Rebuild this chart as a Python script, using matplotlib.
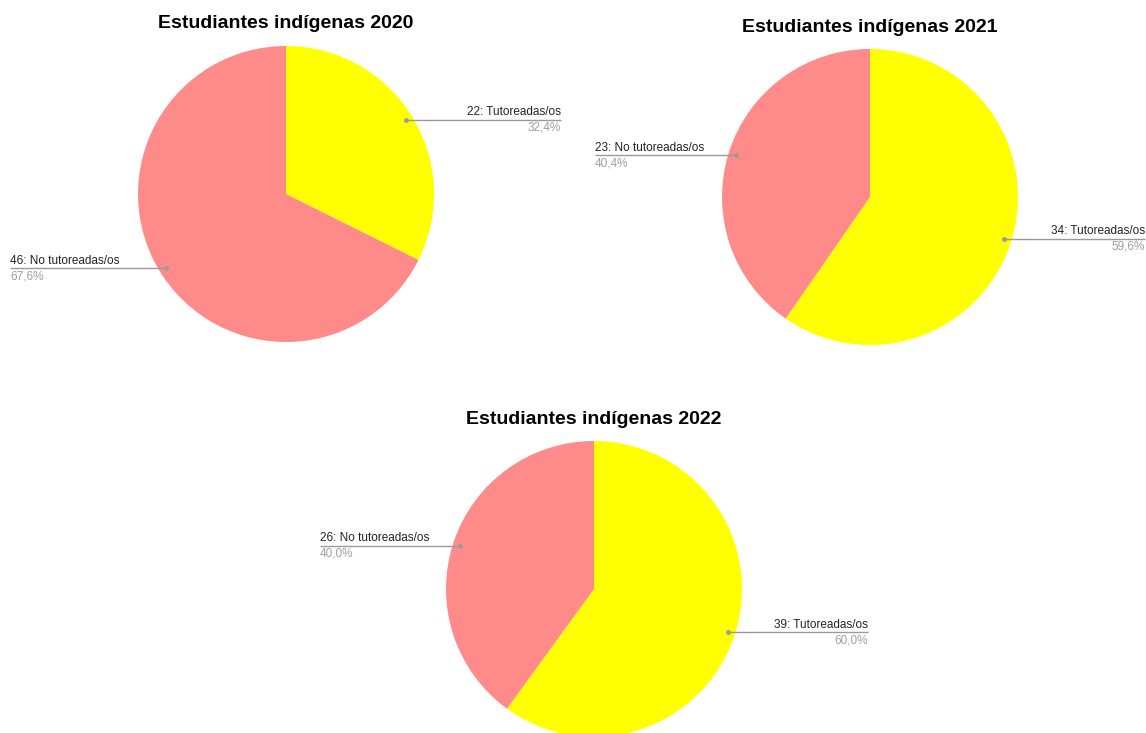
import matplotlib
matplotlib.use("Agg")
import matplotlib.pyplot as plt
import numpy as np

plt.rcParams['font.family'] = ['Liberation Sans', 'DejaVu Sans']

years = ["2020", "2021", "2022"]
titles = ["Estudiantes indígenas 2020", "Estudiantes indígenas 2021", "Estudiantes indígenas 2022"]
categories = ["Tutoreadas/os", "No tutoreadas/os"]
tutoreadas = [22, 34, 39]
no_tutoreadas = [46, 23, 26]

colors = ["#FFFF00", "#FF8A8A"]

W, H = 1146, 733
fig = plt.figure(figsize=(W / 100, H / 100), dpi=100)
ax = fig.add_axes([0, 0, 1, 1])
ax.set_xlim(0, W)
ax.set_ylim(0, H)
ax.set_aspect('equal')
ax.axis('off')

# layout: pie centers (pixel coords from top), radius, title y, label x-ends
layout = [
    dict(c=(286, 194), r=148, ty=24, lx={0: 561, 1: 10}),
    dict(c=(870, 197), r=148, ty=28, lx={0: 1145, 1: 595}),
    dict(c=(594, 589), r=148, ty=420, lx={0: 868, 1: 320}),
]

for i, L in enumerate(layout):
    vals = [tutoreadas[i], no_tutoreadas[i]]
    cx, cy = L['c'][0], H - L['c'][1]
    r = L['r']
    wedges, _ = ax.pie(vals, colors=colors, startangle=90, counterclock=False,
                       center=(cx, cy), radius=r, frame=True,
                       wedgeprops=dict(linewidth=0))
    ax.text(cx, H - L['ty'], titles[i], ha='center', va='center',
            fontsize=14, fontweight='bold', color='#000000')
    total = sum(vals)
    for j, w in enumerate(wedges):
        mid = np.deg2rad((w.theta1 + w.theta2) / 2)
        dx = cx + 0.95 * r * np.cos(mid)
        dy = cy + 0.95 * r * np.sin(mid)
        ex = L['lx'][j]
        ax.plot([dx, ex], [dy, dy], color='#9a9a9a', lw=1.0, solid_capstyle='butt')
        ax.plot([dx], [dy], 'o', color='#9a9a9a', ms=2.5)
        ha = 'right' if ex > dx else 'left'
        pct = f"{100 * vals[j] / total:.1f}%".replace('.', ',')
        ax.text(ex, dy + 1.5, f"{vals[j]}: {categories[j]}", ha=ha, va='bottom',
                fontsize=8.5, color='#222222')
        ax.text(ex, dy - 2, pct, ha=ha, va='top', fontsize=8.5, color='#9e9e9e')

ax.set_xlim(0, W)
ax.set_ylim(0, H)
ax.axis('off')
fig.savefig('out.png', dpi=100)
